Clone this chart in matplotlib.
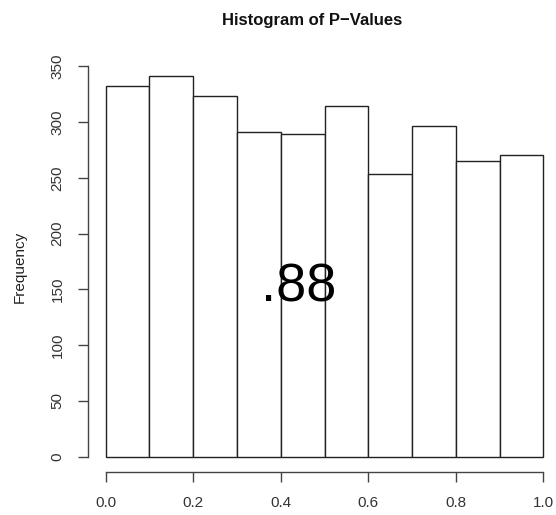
import matplotlib
matplotlib.use("Agg")
import matplotlib.pyplot as plt
import numpy as np

# bin edges and counts
bin_edges = [0.0, 0.1, 0.2, 0.3, 0.4, 0.5, 0.6, 0.7, 0.8, 0.9, 1.0]
counts = [332, 341, 323, 291, 289, 314, 253, 296, 265, 270]
x_ticks = [0.0, 0.2, 0.4, 0.6, 0.8, 1.0]
x_ticklabels = ["0.0", "0.2", "0.4", "0.6", "0.8", "1.0"]
y_ticks = [0, 50, 100, 150, 200, 250, 300, 350]
note = ".88"

plt.rcParams['font.family'] = ['Liberation Sans', 'DejaVu Sans']

fig = plt.figure(figsize=(5.56, 5.15), dpi=100)
ax = fig.add_axes([0.1583, 0.0835, 0.8507, 0.7981])

left = np.array(bin_edges[:-1])
widths = np.diff(bin_edges)
ax.bar(left, counts, width=widths, align='edge', facecolor='white',
       edgecolor='#222222', linewidth=1.0)

ax.set_xlim(-0.04, 1.04)
ax.set_ylim(-13.64, 354.64)

for s in ['top', 'right']:
    ax.spines[s].set_visible(False)
ax.spines['left'].set_bounds(0, 350)
ax.spines['bottom'].set_bounds(0, 1)
for s in ['left', 'bottom']:
    ax.spines[s].set_color('#444444')
    ax.spines[s].set_linewidth(1.0)

ax.set_xticks(x_ticks)
ax.set_xticklabels(x_ticklabels)
ax.set_yticks(y_ticks)
ax.set_yticklabels([str(v) for v in y_ticks], rotation=90, va='center')
ax.tick_params(axis='both', length=7, width=1.0, color='#444444',
               labelsize=11, labelcolor='#333333')
ax.tick_params(axis='x', pad=10)
ax.tick_params(axis='y', pad=10)

ax.set_ylabel("Frequency", fontsize=11, labelpad=17, color='#222222')
ax.text(0.474, 1.088, "Histogram of P\u2212Values", transform=ax.transAxes,
        fontsize=12, fontweight='bold', ha='center', va='baseline',
        color='#111111')

ax.text(0.44, 152, note, fontsize=39, ha='center', va='center', color='black')

fig.savefig('out.png', dpi=100)
